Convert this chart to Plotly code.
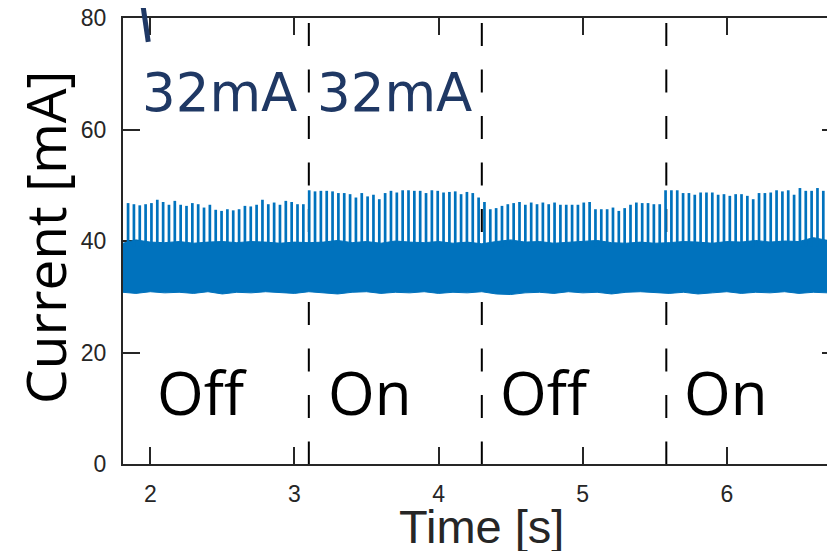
import plotly.graph_objects as go

# ---------------- data ----------------
x_range = [1.8108, 6.778]
y_range = [0, 80]
x_ticks = [2, 3, 4, 5, 6]
y_ticks = [0, 20, 40, 60, 80]

# periodic current spikes (peak values, mA), one list per phase
spike_start = 1.846
spike_period = 0.04053
spike_off1 = [46.8, 46.6, 46.4, 46.6, 46.8, 47.4, 47.0, 46.5, 47.2, 46.5, 46.3, 46.8, 46.6, 46.0, 46.5, 45.6,
              45.4, 45.7, 45.5, 45.7, 46.3, 46.2, 46.5, 47.4, 46.6, 46.9, 46.5, 47.2, 47.0, 46.6, 46.6]
spike_on1 = [49.1, 48.9, 49.0, 49.0, 48.9, 48.6, 48.6, 48.4, 47.8, 48.6, 48.0, 48.3, 47.5, 48.6, 49.0,
             48.7, 49.1, 49.1, 49.0, 49.0, 48.6, 49.1, 49.0, 48.7, 48.8, 48.9, 48.4, 48.8, 48.6, 47.8]
spike_off2 = [47.0, 45.7, 45.9, 46.3, 46.6, 46.8, 47.0, 46.5, 46.9, 46.6, 46.9, 46.6, 46.9, 46.5, 46.5, 46.5,
              46.5, 46.9, 47.0, 45.7, 45.7, 45.7, 46.0, 45.4, 45.9, 46.5, 46.9, 46.8, 46.8, 46.6, 46.6]
spike_on2 = [49.1, 49.1, 49.1, 48.6, 48.6, 48.3, 48.7, 48.7, 48.7, 48.3, 48.4, 48.1, 48.4, 48.4, 48.1,
             47.5, 48.6, 48.6, 48.7, 49.1, 48.9, 49.1, 48.3, 49.5, 49.0, 49.0, 49.5, 49.0, 48.9, 48.6]
spike_base = 39.0

# dense current band envelope (mA)
band_time = [1.81, 1.9, 2.0, 2.1, 2.2, 2.3, 2.4, 2.5, 2.6, 2.7, 2.8, 2.9, 3.0, 3.1, 3.2, 3.3, 3.4, 3.5,
             3.6, 3.7, 3.8, 3.9, 4.0, 4.1, 4.2, 4.3, 4.4, 4.5, 4.6, 4.7, 4.8, 4.9, 5.0, 5.1, 5.2, 5.3,
             5.4, 5.5, 5.6, 5.7, 5.8, 5.9, 6.0, 6.1, 6.2, 6.3, 6.4, 6.5, 6.6, 6.7, 6.78]
band_upper = [39.6, 40.2, 39.8, 39.7, 39.9, 39.6, 39.8, 39.9, 39.7, 39.9, 39.8, 39.6, 39.8, 39.7, 39.8, 40.1,
              39.7, 39.9, 39.6, 40.0, 39.8, 39.7, 39.9, 39.6, 39.8, 39.5, 39.9, 40.2, 39.8, 39.9, 39.6, 39.8,
              40.0, 40.1, 39.7, 39.6, 39.8, 39.6, 39.7, 39.9, 39.8, 39.6, 39.9, 39.8, 40.1, 39.8, 40.0, 39.9,
              40.6, 40.1, 39.9]
band_lower = [30.8, 30.6, 30.9, 30.7, 30.8, 30.6, 30.9, 30.5, 30.8, 30.7, 30.9, 30.8, 30.6, 30.9, 30.7, 30.5,
              30.8, 30.9, 30.6, 30.8, 30.7, 30.9, 30.6, 30.8, 30.7, 30.9, 30.5, 30.4, 30.7, 30.8, 30.6, 30.9,
              30.7, 30.8, 30.5, 30.8, 30.9, 30.7, 30.6, 30.8, 30.5, 30.7, 30.9, 30.6, 30.8, 30.7, 30.9, 30.6,
              30.8, 30.7, 30.8]

# phase dividers (s) and labels
dividers = [3.1, 4.3, 5.58]
state_labels = ["Off", "On", "Off", "On"]
state_label_x = [2.033, 3.216, 4.41, 5.69]
state_label_y = 12.95
current_labels = ["32mA", "32mA"]
current_label_x = [1.929, 3.146]
current_label_y = 66.7
pointer_x = [1.944, 1.986]
pointer_y = [83.2, 75.7]

# ---------------- figure ----------------
BLUE = "#0072BD"
NAVY = "#1F3864"
AX = "#262626"

spikes = spike_off1 + spike_on1 + spike_off2 + spike_on2
sx, sy = [], []
for i, v in enumerate(spikes):
    t = spike_start + i * spike_period
    sx += [t, t, None]
    sy += [spike_base, v, None]

fig = go.Figure()
fig.add_trace(go.Scatter(x=band_time, y=band_lower, mode="lines",
                         line=dict(color=BLUE, width=1), hoverinfo="skip", showlegend=False))
fig.add_trace(go.Scatter(x=band_time, y=band_upper, mode="lines", fill="tonexty",
                         fillcolor=BLUE, line=dict(color=BLUE, width=1), hoverinfo="skip",
                         showlegend=False))
fig.add_trace(go.Scatter(x=sx, y=sy, mode="lines", line=dict(color=BLUE, width=2.7),
                         hoverinfo="skip", showlegend=False))

top_dash_y = 79.1
for d in dividers:
    fig.add_shape(type="line", xref="x", yref="y", x0=d, x1=d, y0=top_dash_y, y1=y_range[0],
                  line=dict(color="black", width=2, dash="23px,23.5px"), layer="below")

def to_paper(v):
    return (v - y_range[0]) / (y_range[1] - y_range[0])

fig.add_shape(type="line", xref="x", yref="paper", x0=pointer_x[0], x1=pointer_x[1],
              y0=to_paper(pointer_y[0]), y1=to_paper(pointer_y[1]),
              line=dict(color=NAVY, width=5))

for txt, x in zip(state_labels, state_label_x):
    fig.add_annotation(x=x, y=state_label_y, text=txt, showarrow=False, xanchor="left",
                       yanchor="middle", font=dict(family="Open Sans", size=60, color="black"))
for txt, x in zip(current_labels, current_label_x):
    fig.add_annotation(x=x, y=current_label_y, text=txt, showarrow=False, xanchor="left",
                       yanchor="middle", font=dict(family="DejaVu Sans", size=53, color=NAVY))

fig.add_annotation(xref="paper", yref="paper", x=0.5, y=-0.0765, text="Time [s]", showarrow=False,
                   xanchor="center", yanchor="top",
                   font=dict(family="Liberation Sans", size=47, color=AX))
fig.add_annotation(xref="paper", yref="paper", x=-0.109, y=0.509, text="Current [mA]", showarrow=False,
                   xanchor="center", yanchor="middle", textangle=-90,
                   font=dict(family="Open Sans", size=55, color="black"))

axis_common = dict(showgrid=False, zeroline=False, showline=True, linecolor=AX, linewidth=2,
                   ticks="inside", ticklen=17, tickwidth=2, tickcolor=AX, mirror="ticks",
                   tickfont=dict(family="Liberation Sans", size=23, color=AX),
                   ticklabeloverflow="allow", layer="below traces")
fig.update_xaxes(range=x_range, tickvals=x_ticks, ticklabelstandoff=8, **axis_common)
fig.update_yaxes(range=y_range, tickvals=y_ticks, ticklabelstandoff=10, **axis_common)

# page body adds an 8 px offset; plot area placed to match the reference window
fig.update_layout(width=835, height=551, margin=dict(l=115, r=4, t=10, b=95, autoexpand=False),
                  plot_bgcolor="white", paper_bgcolor="white", showlegend=False)

fig.write_html("out.html")
